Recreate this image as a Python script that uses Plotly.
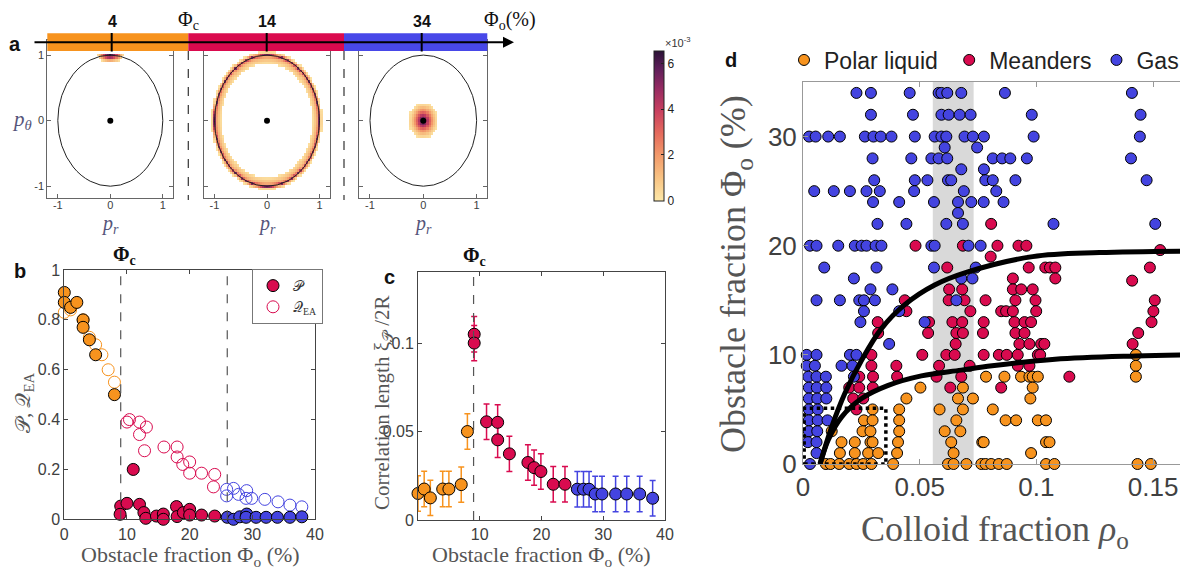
import numpy as np
import plotly.graph_objects as go

# page has an 8px body margin: figure is drawn at (8,8); map reference pixels accordingly
OFF = 8
W, H = 1188 - OFF, 571 - OFF
def fx(px): return (px - OFF) / W
def fy(py): return 1 - (py - OFF) / H

ORANGE = "#F7931E"
RED = "#D90B4F"
BLUE = "#4444E0"
TICKC = "#404040"
SERIF = "Liberation Serif"
SANS = "Liberation Sans"

# ---------------- panel a: radial / local profiles (x1e-3)
a_grid_step = 0.04
a1_center = (0.0, 1.0)
a1_scale = (0.24, 0.1)
a1_prof_d = [0.0, 0.35, 0.6, 0.85, 1.0, 1.1]
a1_prof_v = [6.4, 5.0, 3.0, 1.2, 0.5, 0.0]
a2_prof_r = [0.86, 0.89, 0.93, 0.96, 0.985, 1.0, 1.015, 1.04, 1.065]
a2_prof_v = [0.0, 0.5, 1.0, 1.6, 3.0, 5.2, 2.2, 0.5, 0.0]
a3_prof_r = [0.0, 0.06, 0.12, 0.18, 0.24, 0.29]
a3_prof_v = [6.3, 5.0, 3.2, 1.6, 0.5, 0.0]

# ---------------- panel b
b_pol_xP = [0, 0, 1, 2, 3, 3, 4, 5, 8]
b_pol_P = [0.91, 0.87, 0.85, 0.87, 0.80, 0.77, 0.72, 0.66, 0.50]
b_pol_xQ = [0, 1, 3, 4, 5, 6, 7, 8]
b_pol_Q = [0.83, 0.84, 0.80, 0.73, 0.70, 0.66, 0.60, 0.55]
b_mea_xQ = [10, 10.4, 12, 13.1, 12, 12.8, 15.9, 18, 18, 18.9, 20, 20, 21.9, 24, 23.8]
b_mea_Q = [0.39, 0.40, 0.39, 0.37, 0.34, 0.275, 0.29, 0.29, 0.25, 0.22, 0.23, 0.185, 0.185, 0.18, 0.13]
b_gas_xQ = [25.9, 25.9, 27, 27.8, 29.1, 29, 29.9, 32, 34.1, 36, 37.9]
b_gas_Q = [0.12, 0.094, 0.124, 0.10, 0.115, 0.084, 0.084, 0.08, 0.07, 0.057, 0.05]
b_mea_xP = [9, 8.9, 10, 11, 12, 12.7, 13, 14.7, 15.8, 15.8, 17.9, 18, 19, 20, 20, 21.9, 24]
b_mea_P = [0.053, 0.02, 0.064, 0.20, 0.06, 0.027, 0.004, 0.013, 0.021, 0.0, 0.051, 0.011, 0.027, 0.04, 0.017, 0.017, 0.013]
b_gas_xP = [26, 27, 28, 29.1, 29, 30.6, 32.2, 34, 36, 37.9]
b_gas_P = [0.008, 0.0, 0.01, 0.021, 0.008, 0.008, 0.008, 0.008, 0.008, 0.01]
phi_c = 9
phi_gas = 26

# ---------------- panel c
c_pol_x = [0, 1, 2, 4, 5, 7, 8]
c_pol_y = [0.015, 0.0175, 0.0125, 0.0175, 0.0175, 0.02, 0.05]
c_mea_x = [9.1, 9.1, 11.1, 12.9, 12.9, 14.8, 17.8, 18.8, 19.9, 21.9, 23.8]
c_mea_y = [0.105, 0.100, 0.0555, 0.0552, 0.0453, 0.0374, 0.0325, 0.0296, 0.0274, 0.0202, 0.0202]
c_gas_x = [25.8, 26.8, 27.7, 28.7, 29.8, 32, 33.8, 35.9, 38]
c_gas_y = [0.0174, 0.0174, 0.0174, 0.0147, 0.0147, 0.0147, 0.0147, 0.0147, 0.0123]
c_err = 0.01

# ---------------- panel d (rho, Phi) per row
d_gas = {
    34: [0.0229, 0.0291, 0.0457, 0.0581, 0.0593, 0.0618, 0.0678, 0.0865, 0.1409],
    32: [0.0291, 0.0471, 0.0593, 0.0624, 0.0671, 0.0718, 0.098, 0.1446],
    30: [0.0026, 0.0054, 0.0108, 0.0158, 0.0265, 0.0302, 0.0333, 0.0379, 0.0479, 0.0564,
         0.0593, 0.0614, 0.0692, 0.0728, 0.0775, 0.0988, 0.1443],
    29: [0.0607, 0.0746],
    28: [0.0298, 0.0464, 0.055, 0.0581, 0.0618, 0.0813, 0.0853, 0.0888, 0.0959, 0.1405],
    27: [0.0678, 0.0775],
    26: [0.0305, 0.0479, 0.0533, 0.0621, 0.0635, 0.0781, 0.0813, 0.091, 0.1472],
    25: [0.0048, 0.0132, 0.0201, 0.0272, 0.0329, 0.0476, 0.0689, 0.0828],
    24: [0.03, 0.0412, 0.0561, 0.0664, 0.0721, 0.0774, 0.0859],
    23: [0.0664],
    22: [0.0319, 0.0443, 0.0614, 0.0685, 0.1073, 0.1509],
    20: [0.003, 0.0058, 0.0151, 0.0222, 0.0251, 0.0272, 0.0311, 0.0336, 0.055, 0.0564, 0.0709, 0.0761],
    18: [0.0091, 0.0315, 0.0561, 0.074],
    17: [0.0218, 0.0678, 0.0726],
    16: [0.0289, 0.0383],
    15: [0.0058, 0.0158, 0.0241, 0.0261, 0.0308, 0.0657],
    14: [0.0261, 0.0412],
    13: [0.0246, 0.0521],
    11: [0.0369],
    10: [0.0016, 0.0058, 0.0201, 0.0229],
    9: [0.0016, 0.0051, 0.0165, 0.0212],
    8: [0.0023, 0.0058, 0.0098, 0.0218],
    7: [0.0025, 0.0059, 0.0100],
    6: [0.0025, 0.0061, 0.0100],
    5: [0.0025, 0.0063],
    4: [0.0025, 0.0063, 0.0105],
    3: [0.0025, 0.0061],
    2: [0.0021, 0.0058],
    1: [0.0058],
    0: [0.003],
}
d_mea = {
    22: [0.0806],
    20: [0.0482, 0.0685, 0.0833, 0.0923, 0.0957],
    19.6: [0.153],
    19: [0.0804],
    18: [0.0618, 0.0967, 0.1038, 0.1058, 0.1081, 0.1486],
    17: [0.0899, 0.1081],
    16.8: [0.141],
    16: [0.0626, 0.0682, 0.0899, 0.0935, 0.0984],
    15: [0.0436, 0.0624, 0.0692, 0.0782, 0.091, 0.0996, 0.1507],
    14: [0.0443, 0.0717, 0.0849, 0.087, 0.0899, 0.0999, 0.1501],
    13: [0.032, 0.054, 0.064, 0.0682, 0.0774, 0.0906, 0.0949, 0.0977, 0.1493],
    12: [0.0322, 0.0536, 0.0657, 0.0685, 0.0771, 0.091, 0.0949, 0.1436],
    11: [0.0654, 0.0927, 0.097, 0.102, 0.1034, 0.1412],
    10: [0.0293, 0.0511, 0.0614, 0.065, 0.0774, 0.0839, 0.0873, 0.092, 0.1006, 0.1016],
    9: [0.0293, 0.04, 0.0583, 0.0714, 0.092, 0.097],
    8: [0.0241, 0.03, 0.0403, 0.0572, 0.0678, 0.1141],
    7: [0.0198, 0.0241, 0.0299, 0.0631, 0.0849],
    6: [0.0215, 0.0258],
    5: [0.0229],
}
d_pol = {
    10: [0.1426],
    9: [0.1426],
    8: [0.0784, 0.0863, 0.0934, 0.097, 0.0984, 0.1006, 0.1426],
    7: [0.0503, 0.0685, 0.0984],
    6: [0.0443, 0.0664, 0.0728, 0.0974],
    5: [0.0298, 0.0412, 0.0585, 0.0685, 0.0813],
    4: [0.0261, 0.0298, 0.0412, 0.0657, 0.0868, 0.0913, 0.1006, 0.1041],
    3: [0.0123, 0.0255, 0.0289, 0.0412, 0.0607, 0.0674],
    2: [0.0165, 0.0222, 0.0289, 0.0298, 0.0407, 0.0635, 0.0768, 0.0774, 0.1041, 0.1056],
    1: [0.0158, 0.0222, 0.0279, 0.0322, 0.0403, 0.0645, 0.0977],
    0: [0.0098, 0.0118, 0.0155, 0.0198, 0.0229, 0.0258, 0.0293, 0.0386, 0.0621, 0.0645, 0.07,
        0.0764, 0.0782, 0.0806, 0.0839, 0.0873, 0.1041, 0.1077, 0.1433, 0.149],
}
d_up_rho = [0.0073, 0.0123, 0.018, 0.0251, 0.0336, 0.0436, 0.0564, 0.0706, 0.0984, 0.127, 0.1645]
d_up_phi = [0, 3.4, 6.5, 9.5, 12.4, 14.6, 16.4, 17.6, 19.0, 19.37, 19.5]
d_lo_rho = [0.0073, 0.0108, 0.0165, 0.0251, 0.0365, 0.0507, 0.0678, 0.081, 0.108, 0.1426, 0.1645]
d_lo_phi = [0, 2.2, 4.3, 6.0, 7.2, 8.07, 8.6, 9.0, 9.6, 9.9, 10.0]
d_band = [0.0556, 0.0731]
d_box = [0.0, 0.0355, 0.0, 5.1]

def flat(d):
    xs, ys = [], []
    for k, v in d.items():
        for r in v:
            xs.append(r); ys.append(k)
    return xs, ys

fig = go.Figure()

# ---------------- panel a heatmaps
grid = np.round(np.arange(-1.2, 1.2001, a_grid_step), 3)
X, Y = np.meshgrid(grid, grid)
def mask(z):
    z = z * 1e-3
    return np.where(z < 0.15e-3, np.nan, z)
d1 = np.sqrt(((X - a1_center[0]) / a1_scale[0]) ** 2 + ((Y - a1_center[1]) / a1_scale[1]) ** 2)
z1 = np.interp(d1, a1_prof_d, a1_prof_v, right=0)
z1 = np.where(Y > 1.02, 0, z1)
R = np.sqrt(X ** 2 + Y ** 2)
z2 = np.interp(R, a2_prof_r, a2_prof_v, left=0, right=0)
z3 = np.interp(R, a3_prof_r, a3_prof_v, right=0)
for i, z in enumerate([z1, z2, z3]):
    sfx = "" if i == 0 else str(i + 1)
    fig.add_trace(go.Heatmap(x=grid, y=grid, z=mask(z), coloraxis="coloraxis",
                             xaxis="x" + sfx, yaxis="y" + sfx, hoverinfo="skip"))
    fig.add_trace(go.Scatter(x=[0], y=[0], mode="markers", marker=dict(color="black", size=6),
                             xaxis="x" + sfx, yaxis="y" + sfx, showlegend=False))

# ---------------- panel b
def mk(color, size, open_=False):
    if open_:
        return dict(symbol="circle-open", size=size, color=color, line=dict(width=1, color=color))
    return dict(symbol="circle", size=size, color=color, line=dict(width=1, color="black"))

for xs, ys, col, name, sl in [(b_pol_xQ, b_pol_Q, ORANGE, "q1", False),
                              (b_mea_xQ, b_mea_Q, RED, "𝒬<sub>EA</sub>", True),
                              (b_gas_xQ, b_gas_Q, BLUE, "q3", False)]:
    fig.add_trace(go.Scatter(x=xs, y=ys, mode="markers", marker=mk(col, 12, True), name=name,
                             showlegend=sl, xaxis="x4", yaxis="y4", cliponaxis=False, legendrank=2))
for xs, ys, col, name, sl in [(b_pol_xP, b_pol_P, ORANGE, "p1", False),
                              (b_mea_xP, b_mea_P, RED, "𝒫", True),
                              (b_gas_xP, b_gas_P, BLUE, "p3", False)]:
    fig.add_trace(go.Scatter(x=xs, y=ys, mode="markers", marker=mk(col, 12), name=name,
                             showlegend=sl, xaxis="x4", yaxis="y4", cliponaxis=False, legendrank=1))

# ---------------- panel c
for xs, ys, col in [(c_pol_x, c_pol_y, ORANGE), (c_mea_x, c_mea_y, RED), (c_gas_x, c_gas_y, BLUE)]:
    fig.add_trace(go.Scatter(x=xs, y=ys, mode="markers", marker=mk(col, 12),
                             error_y=dict(type="constant", value=c_err, color=col, thickness=1.5, width=3),
                             showlegend=False, xaxis="x5", yaxis="y5", cliponaxis=False))

# ---------------- panel d
NB = "\u00a0"
for d, col, name in [(d_pol, ORANGE, "Polar liquid" + NB), (d_mea, RED, "Meanders"), (d_gas, BLUE, "Gas")]:
    xs, ys = flat(d)
    fig.add_trace(go.Scatter(x=xs, y=ys, mode="markers", marker=mk(col, 11), name=name,
                             legend="legend2", xaxis="x6", yaxis="y6", cliponaxis=False))
for xs, ys in [(d_up_rho, d_up_phi), (d_lo_rho, d_lo_phi)]:
    fig.add_trace(go.Scatter(x=xs, y=ys, mode="lines", line=dict(color="black", width=5, shape="spline"),
                             showlegend=False, xaxis="x6", yaxis="y6"))

# ---------------- axes
def axis(dom, rng, tickvals, ticktext, anchor, size, lc="#666", tl=4, **kw):
    return dict(domain=dom, range=rng, tickvals=tickvals, ticktext=ticktext, anchor=anchor,
                showline=True, linecolor=lc, linewidth=1, mirror="ticks", ticks="inside",
                ticklen=tl, tickcolor=lc, showgrid=False, zeroline=False,
                tickfont=dict(family=SANS, size=size, color=TICKC), **kw)

ay = [fy(198), fy(40)]
layout = dict(width=W, height=H, margin=dict(l=0, r=0, t=0, b=0, autoexpand=False), autosize=False,
              plot_bgcolor="white", paper_bgcolor="white")
for i, (l, r) in enumerate([(47.3, 173.3), (204, 330), (359.3, 487.3)]):
    sfx = "" if i == 0 else str(i + 1)
    layout["xaxis" + sfx] = axis([fx(l), fx(r)], [-1.2, 1.2], [-1, 0, 1], ["-1", "0", "1"], "y" + sfx, 11, ticklabelstandoff=-3)
    layout["yaxis" + sfx] = axis(ay, [-1.18, 1.23], [-1, 0, 1], ["-1", "0", "1"] if i == 0 else ["", "", ""], "x" + sfx, 11)

layout["xaxis4"] = axis([fx(64.3), fx(315)], [0, 40], [0, 10, 20, 30, 40], ["0", "10", "20", "30", "40"], "y4", 16, lc="#444")
layout["yaxis4"] = axis([fy(519.3), fy(270)], [0, 1], [0, 0.2, 0.4, 0.6, 0.8, 1], ["0", "0.2", "0.4", "0.6", "0.8", "1"], "x4", 16, lc="#444")
layout["xaxis5"] = axis([fx(418), fx(665)], [0, 40], [10, 20, 30, 40], ["10", "20", "30", "40"], "y5", 16, lc="#444")
layout["yaxis5"] = axis([fy(520), fy(272.3)], [0, 0.14], [0, 0.05, 0.1], ["0", "0.05", "0.1"], "x5", 16, lc="#444")
layout["xaxis6"] = axis([fx(803), fx(1187)], [0, 0.1645], [0, 0.05, 0.1, 0.15], ["0", "0.05", "0.1", "0.15"], "y6", 26, lc="#999", tl=5)
layout["yaxis6"] = axis([fy(464), fy(82)], [0, 35], [0, 10, 20, 30], ["0", "10", "20", "30"], "x6", 26, lc="#999", tl=5)

cscale = [[0.0, "#fde8a8"], [0.15, "#f8c484"], [0.3, "#f29b6b"], [0.45, "#e56b5d"],
          [0.6, "#c9405f"], [0.75, "#962b62"], [0.88, "#5f1f5a"], [1.0, "#2b1237"]]
layout["coloraxis"] = dict(colorscale=cscale, cmin=0, cmax=6.55e-3,
                           colorbar=dict(x=fx(654), xanchor="left", y=fy(50.7), yanchor="top",
                                         lenmode="pixels", len=150, thickness=10, xpad=0, ypad=0,
                                         outlinewidth=1, outlinecolor="#222",
                                         tickvals=[0, 0.002, 0.004, 0.006], ticktext=["0", "2", "4", "6"],
                                         ticks="inside", ticklen=3, tickcolor="#222",
                                         tickfont=dict(family=SANS, size=12, color="#222")))
layout["legend"] = dict(x=fx(252), y=fy(269), xanchor="left", yanchor="top", bordercolor="#777",
                        borderwidth=1, bgcolor="white", font=dict(family=SERIF, size=14, color="#333"),
                        tracegroupgap=0, itemwidth=30)
layout["legend2"] = dict(x=fx(784), y=fy(60), xanchor="left", yanchor="middle", orientation="h",
                         font=dict(family=SANS, size=23, color="#222"), bgcolor="rgba(0,0,0,0)",
                         itemwidth=30)

# ---------------- shapes
shapes = []
shapes.append(dict(type="rect", xref="x6", yref="y6 domain", x0=d_band[0], x1=d_band[1], y0=0, y1=1,
                   fillcolor="#d9d9d9", line=dict(width=0), layer="below"))
shapes.append(dict(type="rect", xref="x6", yref="y6", x0=d_box[0] + 0.0005, x1=d_box[1], y0=d_box[2], y1=d_box[3],
                   line=dict(color="black", width=3.5, dash="dot"), layer="above"))
for sfx in ["", "2", "3"]:
    shapes.append(dict(type="circle", xref="x" + sfx, yref="y" + sfx, x0=-1, x1=1, y0=-1, y1=1,
                       line=dict(color="#222", width=1)))
for xv, xa in [(phi_c, "x4"), (phi_gas, "x4"), (phi_c, "x5")]:
    shapes.append(dict(type="line", xref=xa, yref=xa.replace("x", "y") + " domain", x0=xv, x1=xv, y0=0, y1=1,
                       line=dict(color="#555", width=1.2, dash="dash")))
for xv in [188.3, 344]:
    shapes.append(dict(type="line", xref="paper", yref="paper", x0=fx(xv), x1=fx(xv), y0=fy(51), y1=fy(200),
                       line=dict(color="#333", width=1.2, dash="dash")))
for (l, r), col in zip([(47.3, 188.3), (188.3, 344), (344, 487.3)], [ORANGE, "#DA0A4E", "#4848E8"]):
    shapes.append(dict(type="rect", xref="paper", yref="paper", x0=fx(l), x1=fx(r), y0=fy(51), y1=fy(33.3),
                       fillcolor=col, line=dict(width=0)))
for xv in [111.7, 266.7, 421.7]:
    shapes.append(dict(type="line", xref="paper", yref="paper", x0=fx(xv), x1=fx(xv), y0=fy(51.5), y1=fy(33),
                       line=dict(color="black", width=2)))
layout["shapes"] = shapes

# ---------------- annotations
def txt(x, y, s, size, family=SANS, color="#111", angle=0, **kw):
    return dict(x=fx(x), y=fy(y), xref="paper", yref="paper", text=s, showarrow=False,
                font=dict(family=family, size=size, color=color), textangle=angle,
                xanchor="center", yanchor="middle", **kw)

ann = []
ann.append(dict(x=fx(514), y=fy(42.3), ax=-(514 - 33), ay=0, xref="paper", yref="paper",
                axref="pixel", ayref="pixel", text="", showarrow=True, arrowhead=2, arrowsize=1.1,
                arrowwidth=2, arrowcolor="black"))
for s, x, y in [("<b>a</b>", 15, 44), ("<b>b</b>", 20, 271), ("<b>c</b>", 389, 277), ("<b>d</b>", 731, 60)]:
    ann.append(txt(x, y, s, 20))
for s, x in [("<b>4</b>", 112), ("<b>14</b>", 266.7), ("<b>34</b>", 421.7)]:
    ann.append(txt(x, 22, s, 16))
ann.append(txt(188, 21, "Φ<sub>c</sub>", 20, SERIF, "#111"))
ann.append(txt(510, 21, "Φ<sub>o</sub>(%)", 20, SERIF, "#111"))
ann.append(txt(678, 42, "×10<sup>-3</sup>", 11, SANS, "#333"))
ann.append(txt(124, 255, "<b>Φ<sub>c</sub></b>", 20, SERIF, "#111"))
ann.append(txt(474, 256, "<b>Φ<sub>c</sub></b>", 20, SERIF, "#111"))
ann.append(txt(22, 120, "<i>p<sub>θ</sub></i>", 21, SERIF, "#55557a"))
for x in [110, 266.7, 423.3]:
    ann.append(txt(x, 224, "<i>p<sub>r</sub></i>", 20, SERIF, "#55557a"))
ann.append(txt(24, 403, "𝒫, 𝒬<sub>EA</sub>", 21, SERIF, "#555", angle=-90))
ann.append(txt(190, 556, "Obstacle fraction Φ<sub>o</sub> (%)", 22, SERIF, "#555"))
ann.append(txt(541, 556, "Obstacle fraction Φ<sub>o</sub> (%)", 22, SERIF, "#555"))
ann.append(txt(383, 403, "Correlation length ξ<sub>𝒫</sub> /2R", 21, SERIF, "#555", angle=-90))
ann.append(txt(735, 274, "Obstacle fraction Φ<sub>o</sub> (%)", 36, SERIF, "#555", angle=-90))
ann.append(txt(995, 531, "Colloid fraction <i>ρ</i><sub>o</sub>", 36, SERIF, "#555"))
layout["annotations"] = ann

fig.update_layout(**layout)
fig.write_html("out.html")
